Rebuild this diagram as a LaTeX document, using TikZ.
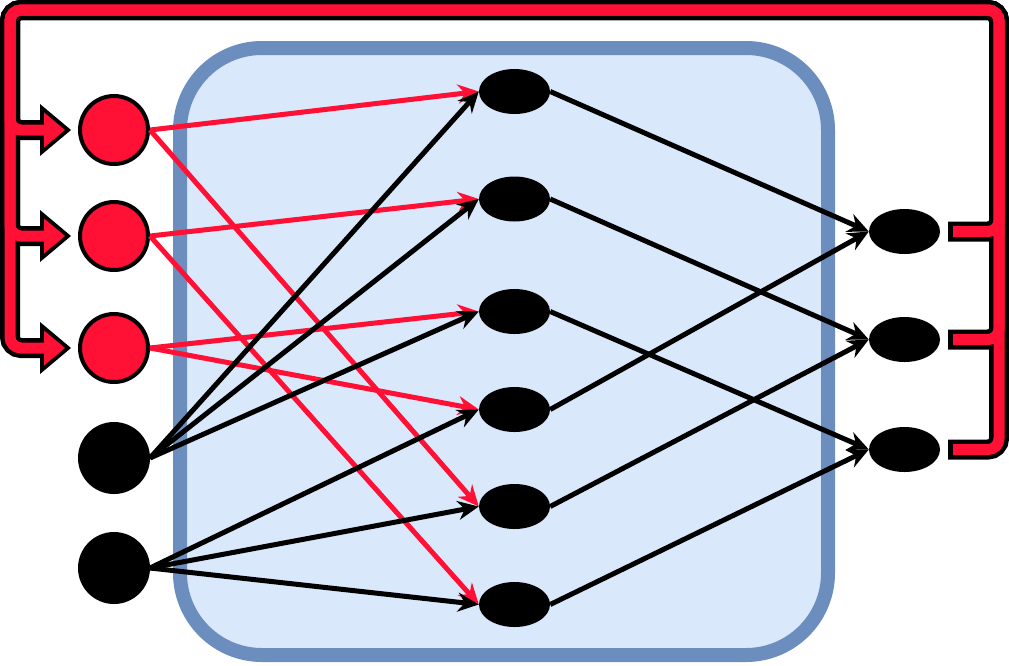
\documentclass[tikz,border=0pt]{standalone}
\usepackage{tikz}
\usetikzlibrary{arrows.meta,shapes.geometric}

\definecolor{ctxred}{RGB}{255,16,52}
\definecolor{boxline}{RGB}{108,142,191}
\definecolor{boxfill}{RGB}{218,232,252}

\tikzset{
  ctx/.style={circle, draw=black, fill=ctxred, line width=4pt, minimum size=68pt, inner sep=0pt},
  inp/.style={circle, draw=black, fill=black, line width=4pt, minimum size=68pt, inner sep=0pt},
  unit/.style={ellipse, fill=black, minimum width=71pt, minimum height=45pt, inner sep=0pt},
  link/.style={line width=5pt, -{Stealth[length=21pt, width=19pt, inset=7pt]}},
  redlink/.style={link, draw=ctxred},
  fbback/.style={line width=20pt, draw=black, rounded corners=11pt},
  fbfront/.style={line width=11pt, draw=ctxred, rounded corners=11pt}
}

\begin{document}
\begin{tikzpicture}[x=1pt, y=-1pt]
    \useasboundingbox (0,0) rectangle (1009,665);
    % Hidden layer box
    \draw[line width=14pt, draw=boxline, fill=boxfill, rounded corners=82pt]
      (180,48) rectangle (828,655);
    % Units
    \foreach \i/\y in {1/130,2/236,3/348} {
      \node[ctx] (ctx\i) at (114,\y) {};
    }
    \node[inp] (inp1) at (114,458) {};
    \node[inp] (inp2) at (114,568) {};
    \foreach \i/\y in {1/91.5,2/199,3/311.5,4/409.5,5/506.5,6/604.5} {
      \node[unit] (hid\i) at (514.5,\y) {};
    }
    \foreach \i/\y in {1/231.5,2/339.5,3/449.5} {
      \node[unit] (out\i) at (904.5,\y) {};
    }
    % Connections
    \foreach \s/\t in {1/1,1/5,2/2,2/6,3/3,3/4} {
      \draw[redlink] (ctx\s.east) -- (hid\t.west);
    }
    \foreach \t in {1,2,3} {
      \draw[link] (inp1.east) -- (hid\t.west);
    }
    \foreach \t in {4,5,6} {
      \draw[link] (inp2.east) -- (hid\t.west);
    }
    \foreach \s/\t in {1/1,2/2,3/3,4/1,5/2,6/3} {
      \draw[link] (hid\s.east) -- (out\t.west);
    }
    % Feedback from outputs to context units
    \coordinate (tr) at (999,10);
    \coordinate (tl) at (10,10);
    \foreach \i in {1,2,3} {
      \draw[fbback] ([xshift=8pt]out\i.east) -| (tr) -- (tl) |- ([xshift=-32pt]ctx\i.west);
    }
    \foreach \i in {1,2,3} {
      \fill[black] ([xshift=-38pt,yshift=26pt]ctx\i.west) -- ([xshift=-7pt]ctx\i.west)
        -- ([xshift=-38pt,yshift=-26pt]ctx\i.west) -- cycle;
    }
    \foreach \i in {1,2,3} {
      \draw[fbfront] ([xshift=13pt]out\i.east) -| (tr) -- (tl) |- ([xshift=-32pt]ctx\i.west);
    }
    \foreach \i in {1,2,3} {
      \fill[ctxred] ([xshift=-34pt,yshift=17.5pt]ctx\i.west) -- ([xshift=-13pt]ctx\i.west)
        -- ([xshift=-34pt,yshift=-17.5pt]ctx\i.west) -- cycle;
    }
  \end{tikzpicture}
\end{document}
